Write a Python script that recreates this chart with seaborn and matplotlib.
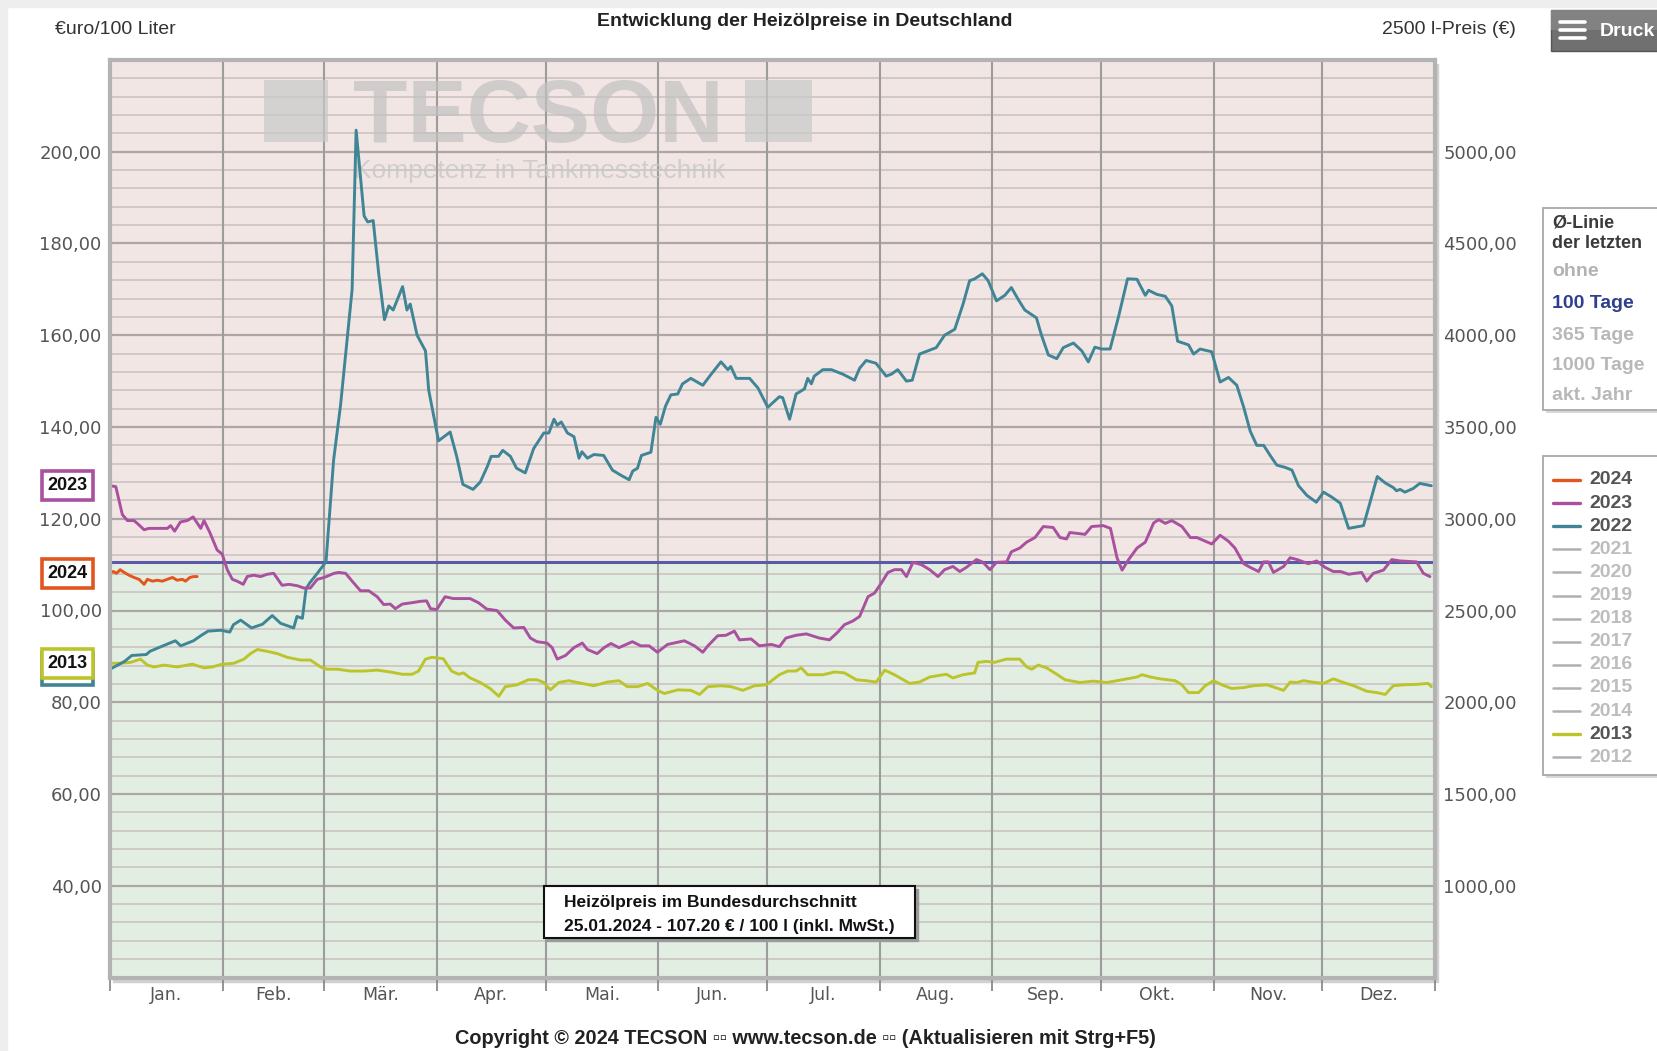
import pandas as pd
import seaborn as sns
import matplotlib.pyplot as plt
from matplotlib.patches import Rectangle
from matplotlib.lines import Line2D
from matplotlib.transforms import blended_transform_factory

# --- Daten (Tag im Jahr, Preis in Euro/100 l) ---
tage_2024 = [0, 0.9, 1.8, 2.8, 3.9, 5.2, 6.6, 8, 9.4, 10.3, 11.7, 13, 14.4, 15.8, 17.2, 18.5, 19.9, 20.8, 22, 23.1, 24]
preis_2024 = [108.1, 108.5, 108.1, 108.9, 108.3, 107.7, 107.2, 106.8, 105.7, 106.8, 106.4, 106.6, 106.4, 106.8,
              107.2, 106.6, 106.8, 106.4, 107.2, 107.4, 107.4]

tage_2023 = [0, 1.6, 3.4, 4.8, 6.6, 7.5, 9.4, 10.7, 13, 15.8, 16.7, 17.8, 19.4, 21.3, 22.9, 24, 25, 25.9, 27.5, 29.5,
             30.9, 32.3, 33.7, 35, 36.7, 37.8, 39.6, 41.5, 43.3, 45.1, 47.4, 49.3, 51.6, 53.4, 55.2, 57.1, 59, 61.7, 63, 64.9,
             66.7, 69, 71.3, 73.6, 75.4, 77.2, 78.6, 80.5, 83.2, 85.5, 87.2, 88.3, 90, 92.3, 94.6, 99.2, 101.5, 103.8, 106.6, 108.9,
             111.2, 114, 115.8, 117.6, 120.4, 121.8, 123.2, 125.5, 127.8, 130.1, 131.5, 134.2, 136.1, 138, 140.2, 143.9, 146.2, 148.5, 150.8, 153.6,
             158.2, 161, 163.3, 164.7, 167.4, 169.7, 172, 173.4, 176.6, 178.9, 182.2, 184.4, 186.2, 189, 191.8, 195.4, 198.2, 200.5, 202.3, 204.6,
             206.5, 208.8, 210.6, 212.5, 214.3, 216.1, 218, 219.4, 221.2, 223.5, 225.8, 228.1, 229.9, 232.2, 234.1, 235.9, 238.7, 240.5, 242.4, 244.2,
             247, 248.3, 250.6, 252.5, 254.8, 257.1, 259.8, 261.7, 263.5, 264.4, 268.6, 270.4, 273.6, 275.6, 277.4, 278.8, 280.6, 282.9, 285.2, 287.5,
             288.9, 290.7, 292.5, 295.3, 297.6, 299.4, 301.7, 303.5, 305.8, 308.1, 309.9, 312.3, 314.1, 316.4, 317.8, 319.1, 320.5, 323.3, 325.1, 327,
             330.1, 332.4, 334.7, 337, 339, 341.2, 344.8, 346.2, 348, 350.8, 353.1, 355.4, 359.9, 361.8, 363.6]
preis_2023 = [127.2, 127.0, 120.9, 119.6, 119.6, 119.0, 117.6, 117.9, 117.9, 117.9, 118.5, 117.3, 119.3, 119.6, 120.4, 119.1, 117.9, 119.6, 117.0, 113.2,
              112.3, 108.9, 106.8, 106.4, 105.7, 107.4, 107.7, 107.4, 107.9, 108.1, 105.5, 105.7, 105.4, 104.9, 104.9, 106.8, 107.2, 108.1, 108.3, 108.1,
              106.4, 104.3, 104.3, 103.0, 101.3, 101.4, 100.4, 101.4, 101.7, 102.0, 102.1, 100.4, 100.2, 103.0, 102.6, 102.6, 101.7, 100.3, 100.0, 97.9,
              96.2, 96.3, 94.0, 93.2, 92.9, 91.9, 89.4, 90.2, 91.9, 92.9, 91.5, 90.6, 91.9, 92.8, 91.9, 93.2, 92.3, 92.3, 90.9, 92.6,
              93.4, 92.3, 90.9, 92.3, 94.5, 94.6, 95.5, 93.6, 93.8, 92.3, 92.6, 92.1, 94.0, 94.6, 94.9, 94.0, 93.6, 95.3, 96.9, 97.7,
              98.7, 103.0, 103.8, 106.0, 108.3, 108.9, 108.9, 107.4, 110.5, 110.0, 108.9, 107.4, 108.9, 109.6, 108.5, 109.4, 111.1, 110.5, 108.9, 110.5,
              110.6, 112.8, 113.6, 114.9, 115.9, 118.3, 118.1, 115.9, 115.6, 117.0, 116.6, 118.3, 118.5, 117.9, 111.5, 108.8, 111.1, 113.6, 114.9, 119.1,
              119.8, 119.0, 119.6, 118.3, 115.9, 115.9, 115.1, 114.5, 116.4, 115.1, 113.6, 110.2, 109.4, 108.5, 110.6, 110.6, 108.3, 109.6, 111.5, 111.1,
              110.2, 110.8, 109.4, 108.5, 108.5, 107.9, 108.3, 106.4, 108.1, 108.8, 111.1, 110.8, 110.6, 108.1, 107.4]

tage_2022 = [0, 4, 6, 10, 11, 14, 18, 19.5, 23, 25, 27, 30.5, 33, 34, 36, 39, 40.5, 42, 44.7, 47,
             50.6, 51.5, 53, 54, 55, 57, 59.5, 61.6, 63.5, 66.7, 67.8, 70, 71, 72.5, 74, 75.6, 76.8, 78, 80.6, 81.8,
             82.7, 84.6, 86.9, 87.8, 90.5, 93.7, 95.5, 97.2, 100, 102, 104, 105, 107, 108.2, 110.3, 112, 114.4, 116.7, 119.5, 120.9,
             122.3, 123.2, 124.3, 126, 127.8, 129.2, 130, 131.5, 133.3, 136, 138.4, 140.7, 143, 144, 145.3, 146.4, 149, 150.4, 151.6, 153,
             154.5, 156.4, 157.7, 160, 163.3, 165.6, 168.3, 170.2, 171, 172.5, 176.2, 178.5, 181.2, 184.4, 185.3, 187.2, 189, 191.3, 192.2, 193.2,
             194, 196.4, 198.7, 201.9, 205.1, 206.5, 208.3, 211, 213.8, 215.2, 217, 219.4, 221, 223, 225.3, 227.6, 229.9, 232.7, 235, 236.8,
             238.2, 240.3, 241.9, 244.2, 246.5, 248.3, 250.2, 252, 255.2, 256.6, 258.5, 260.8, 262.6, 265.4, 267.7, 269.5, 271.3, 273.2, 275.5, 277.9,
             280.3, 282.9, 285.2, 286.1, 288.4, 290.7, 292.5, 294.1, 297.1, 298.5, 300.3, 303.5, 305.8, 308.1, 310.4, 312.3, 314.1, 315.9, 317.8, 319.6,
             321.4, 323.7, 325.6, 327.4, 329.7, 332.3, 334.3, 336.6, 338.9, 341.2, 345.3, 349.1, 351.3, 353.5, 354.4, 355.4, 356.7, 359, 360.8, 364]
preis_2022 = [87.2, 88.9, 90.2, 90.4, 91.1, 92.1, 93.4, 92.3, 93.4, 94.5, 95.5, 95.7, 95.3, 96.9, 97.9, 96.2, 96.6, 97.0, 98.9, 97.2,
              96.2, 98.7, 98.3, 104.7, 106.0, 108.0, 110.6, 132.8, 144.7, 170.0, 204.7, 186.0, 184.7, 185.0, 173.6, 163.4, 166.4, 165.5, 170.6, 165.5,
              166.8, 160.0, 156.6, 148.0, 137.0, 138.9, 133.6, 127.5, 126.4, 128.0, 131.5, 133.6, 133.6, 134.9, 133.6, 131.0, 130.0, 135.3, 138.7, 138.7,
              141.7, 140.4, 141.1, 138.7, 137.9, 133.2, 134.6, 133.2, 134.0, 133.8, 130.6, 129.5, 128.5, 130.4, 131.0, 133.8, 134.5, 142.1, 140.6, 144.5,
              147.0, 147.2, 149.4, 150.6, 149.1, 151.5, 154.2, 152.5, 153.2, 150.6, 150.6, 148.5, 144.3, 146.6, 146.4, 141.7, 147.2, 148.3, 150.6, 149.4,
              151.1, 152.5, 152.5, 151.5, 150.2, 152.8, 154.5, 153.9, 151.1, 151.5, 152.5, 150.0, 150.2, 155.9, 156.6, 157.3, 160.0, 161.3, 166.8, 171.9,
              172.3, 173.4, 171.9, 167.5, 168.7, 170.4, 167.8, 165.5, 163.8, 160.0, 155.7, 154.9, 157.3, 158.3, 156.6, 154.2, 157.4, 157.0, 157.0, 164.3,
              172.3, 172.2, 168.7, 169.8, 168.9, 168.5, 166.4, 158.7, 157.9, 155.9, 157.0, 156.4, 149.8, 150.8, 149.1, 144.3, 139.1, 136.0, 136.0, 133.8,
              131.7, 131.2, 130.6, 127.2, 125.1, 123.6, 125.8, 124.7, 123.4, 117.9, 118.5, 129.2, 127.8, 126.8, 126.1, 126.4, 125.8, 126.6, 127.7, 127.2]

tage_2013 = [0, 2.9, 5.7, 8.4, 10.3, 12.1, 14.9, 18.5, 22.7, 25.9, 28.2, 30.9, 34.1, 36.9, 38.7, 40.6, 43.3, 46.1, 48.8, 52.5,
             55.2, 58, 59.8, 62.6, 66.2, 69.9, 73.6, 77.2, 80.5, 83.2, 85, 86.9, 88.7, 91.8, 94.1, 96, 97.4, 99.2, 102, 104.7,
             107.1, 108.9, 112.1, 115.3, 117.6, 119.5, 121.3, 123.6, 126.4, 128.7, 133.3, 137, 140.2, 142.5, 145.3, 148.1, 150.8, 152.7, 156.4, 160,
             162.4, 164.7, 168.3, 171.1, 174.3, 177.6, 180.8, 184.4, 186.7, 189, 190.4, 192.2, 196.4, 199.6, 202.3, 205.6, 208.3, 211.1, 213.4, 216.1,
             220.3, 223, 225.8, 230.4, 232.2, 235, 238.2, 239.1, 241.4, 243.7, 246.9, 250.6, 252.5, 253.9, 255.7, 258, 260.8, 263.1, 267.2, 270.9,
             274.6, 277.4, 280.1, 282.9, 284.3, 286.6, 289.3, 293.4, 295.3, 297.1, 299.9, 301.7, 304, 306.3, 309, 312.3, 315, 318.7, 321, 323.3,
             325.1, 327, 328.8, 331.1, 334.3, 337, 339.8, 342.6, 346.2, 349, 351.3, 353.5, 356.3, 359.9, 363.1, 364]
preis_2013 = [88.5, 88.5, 88.7, 89.4, 88.1, 87.7, 88.1, 87.7, 88.3, 87.5, 87.7, 88.3, 88.5, 89.4, 90.6, 91.5, 91.1, 90.6, 89.8, 89.2,
              89.2, 87.7, 87.2, 87.2, 86.8, 86.8, 87.0, 86.6, 86.1, 86.1, 86.8, 89.4, 89.8, 89.5, 86.8, 86.1, 86.4, 85.3, 84.3, 83.0,
              81.3, 83.4, 83.8, 84.9, 84.9, 84.3, 82.7, 84.3, 84.7, 84.3, 83.6, 84.4, 84.7, 83.4, 83.4, 84.1, 82.6, 81.9, 82.7, 82.6,
              81.7, 83.4, 83.6, 83.4, 82.6, 83.6, 83.8, 86.0, 86.8, 86.8, 87.5, 86.0, 86.0, 86.6, 86.4, 84.9, 84.7, 84.4, 87.0, 86.0,
              84.1, 84.4, 85.5, 86.1, 85.3, 86.0, 86.4, 88.7, 88.9, 88.7, 89.4, 89.4, 87.7, 87.2, 88.1, 87.5, 86.1, 84.9, 84.3, 84.6,
              84.3, 84.7, 85.1, 85.5, 86.0, 85.5, 85.1, 84.7, 83.8, 82.1, 82.1, 83.6, 84.7, 83.8, 83.0, 83.2, 83.6, 83.8, 83.2, 82.6,
              84.4, 84.3, 84.7, 84.4, 84.1, 85.1, 84.3, 83.6, 82.4, 82.1, 81.7, 83.6, 83.8, 83.9, 84.1, 83.4]

durchschnitt_100_tage = 110.6

monate = ["Jan.", "Feb.", "Mär.", "Apr.", "Mai.", "Jun.", "Jul.", "Aug.", "Sep.", "Okt.", "Nov.", "Dez."]
monatsgrenzen = [0, 31, 59, 90, 120, 151, 181, 212, 243, 273, 304, 334, 365]
y_ticks = [40, 60, 80, 100, 120, 140, 160, 180, 200]
y_ticks_2500 = [1000, 1500, 2000, 2500, 3000, 3500, 4000, 4500, 5000]

legende_jahre = ["2024", "2023", "2022", "2021", "2020", "2019", "2018", "2017",
                 "2016", "2015", "2014", "2013", "2012"]
farben = {"2024": "#e2561e", "2023": "#a9509f", "2022": "#3f8596", "2013": "#bcc42c"}

reihen = [("2013", tage_2013, preis_2013), ("2022", tage_2022, preis_2022),
          ("2023", tage_2023, preis_2023), ("2024", tage_2024, preis_2024)]
df = pd.concat([pd.DataFrame({"Tag": t, "Preis": p, "Jahr": j}) for j, t, p in reihen],
               ignore_index=True)

# --- Stil ---
sns.set_style("white")
plt.rcParams["font.family"] = ["Liberation Sans", "DejaVu Sans"]

W, H = 1657, 1051
fig = plt.figure(figsize=(W / 100, H / 100), dpi=100)


def fx(px):
    return px / W


def fy(py):
    return 1 - py / H


# Seitenrand oben/links
fig.add_artist(Rectangle((0, fy(7)), 1, fy(0) - fy(7), transform=fig.transFigure, color="#eeeeee", zorder=-5))
fig.add_artist(Rectangle((0, 0), fx(7), 1, transform=fig.transFigure, color="#eeeeee", zorder=-5))

L, R, T, B = 110, 1435, 60, 977.5
# Schatten des Diagrammrahmens
fig.add_artist(Rectangle((fx(L + 3), fy(B + 4)), fx(R) - fx(L), fy(T) - fy(B),
                         transform=fig.transFigure, color="#d0d0d0", zorder=-2))
ax = fig.add_axes([fx(L), fy(B), fx(R) - fx(L), fy(T) - fy(B)])
ax.set_facecolor("none")
ax.set_xlim(0, 365)
ax.set_ylim(20, 220)

# Hintergrund ober-/unterhalb der Ø-Linie
ax.axhspan(20, durchschnitt_100_tage, color="#e3eee3", zorder=0.1, lw=0)
ax.axhspan(durchschnitt_100_tage, 220, color="#f1e6e4", zorder=0.1, lw=0)

for v in range(24, 220, 4):
    if v % 20 == 0:
        ax.axhline(v, color="#aca6a5", lw=1.6, zorder=0.5)
    else:
        ax.axhline(v, color="#cdc6c5", lw=1.3, zorder=0.5)
for m in monatsgrenzen[1:-1]:
    ax.axvline(m, color="#9c9c9c", lw=1.5, zorder=0.6)

# Wasserzeichen
for x0, x1 in [(264, 328), (745, 812)]:
    ax.add_patch(Rectangle((fx(x0), fy(142)), fx(x1) - fx(x0), fy(80) - fy(142), transform=fig.transFigure,
                           color="#c9c9c9", alpha=0.7, zorder=0.8, clip_on=False, lw=0))
ax.text(fx(538), fy(142), "TECSON", transform=fig.transFigure, ha="center", va="baseline",
        fontsize=64, fontweight="bold", color="#c2c2c2", alpha=0.7, zorder=0.8)
ax.text(fx(354), fy(178), "Kompetenz in Tankmesstechnik", transform=fig.transFigure, ha="left",
        va="baseline", fontsize=19, color="#c8c8c8", alpha=0.8, zorder=0.8)

ax.axhline(durchschnitt_100_tage, color="#5b5aa6", lw=2.2, zorder=1.5)

sns.lineplot(data=df, x="Tag", y="Preis", hue="Jahr", palette=farben,
             hue_order=["2013", "2022", "2023", "2024"], estimator=None, sort=False,
             linewidth=2.1, legend=False, ax=ax, zorder=2)

ax.set_xlabel("")
ax.set_ylabel("")
for s in ax.spines.values():
    s.set_color("#b3b3b3")
    s.set_linewidth(3)

ax.set_xticks(monatsgrenzen)
ax.set_xticklabels([])
mitten = [(a + b) / 2 for a, b in zip(monatsgrenzen[:-1], monatsgrenzen[1:])]
ax.set_xticks(mitten, minor=True)
ax.set_xticklabels(monate, minor=True, family="DejaVu Sans", fontsize=12.5, color="#555555")
ax.tick_params(axis="x", which="major", length=9, width=1.3, color="#8a8a8a", direction="out", bottom=True)
ax.tick_params(axis="x", which="minor", length=0, pad=6)

ax.set_yticks(y_ticks)
ax.set_yticklabels([f"{v},00" for v in y_ticks], family="DejaVu Sans", fontsize=13, color="#555555")
ax.tick_params(axis="y", length=0, pad=6)

ax2 = ax.twinx()
ax2.set_ylim(20 * 25, 220 * 25)
ax2.set_yticks(y_ticks_2500)
ax2.set_yticklabels([f"{v},00" for v in y_ticks_2500], family="DejaVu Sans", fontsize=13, color="#555555")
ax2.tick_params(axis="y", length=0, pad=6)
for s in ax2.spines.values():
    s.set_visible(False)
ax2.grid(False)

# Jahres-Kästchen links (2022 liegt verdeckt hinter 2013)
halb = blended_transform_factory(ax.transAxes, ax.transData)
ax.add_patch(Rectangle((-0.0515, preis_2022[0] - 3.5), 0.0385, 7, transform=halb, fc="white",
                       ec=farben["2022"], lw=2.6, clip_on=False, zorder=2.9))
for jahr, werte in [("2013", preis_2013), ("2024", preis_2024), ("2023", preis_2023)]:
    ax.annotate(jahr, xy=(-0.032, werte[0]), xycoords=("axes fraction", "data"), ha="center", va="center",
                fontsize=13, fontweight="bold", color="#111111", annotation_clip=False,
                bbox=dict(boxstyle="square,pad=0.32", fc="white", ec=farben[jahr], lw=2.6))

# Kopf- und Fusszeile
fig.text(fx(55), fy(29), "€uro/100 Liter", ha="left", va="center", fontsize=14, color="#333333")
fig.text(fx(805), fy(21), "Entwicklung der Heizölpreise in Deutschland", ha="center", va="center",
         fontsize=14, fontweight="bold", color="#222222")
fig.text(fx(1516), fy(29), "2500 l-Preis (€)", ha="right", va="center", fontsize=14, color="#333333")
fig.text(fx(805), fy(1038), "Copyright © 2024 TECSON \u25ab\u25ab www.tecson.de \u25ab\u25ab (Aktualisieren mit Strg+F5)",
         ha="center", va="center", fontsize=14.3, fontweight="bold", color="#222222")

# Infobox
fig.add_artist(Rectangle((fx(547), fy(941)), fx(915) - fx(544), fy(886) - fy(938),
                         transform=fig.transFigure, color="#9a9a9a", zorder=4))
fig.add_artist(Rectangle((fx(544), fy(938)), fx(915) - fx(544), fy(886) - fy(938),
                         transform=fig.transFigure, fc="white", ec="#111111", lw=1.5, zorder=5))
fig.text(fx(564), fy(903), "Heizölpreis im Bundesdurchschnitt", ha="left", va="center",
         fontsize=12.5, fontweight="bold", color="#111111", zorder=6)
fig.text(fx(564), fy(927), "25.01.2024 - 107.20 € / 100 l (inkl. MwSt.)", ha="left", va="center",
         fontsize=12.5, fontweight="bold", color="#111111", zorder=6)

# Druck-Button
fig.add_artist(Rectangle((fx(1551), fy(51)), fx(120), fy(10) - fy(51), transform=fig.transFigure,
                         fc="#707070", ec="#555555", lw=1, zorder=4))
fig.add_artist(Rectangle((fx(1551), fy(30)), fx(120), fy(10) - fy(30), transform=fig.transFigure,
                         fc="#828282", lw=0, zorder=4))
for yy in [22, 30, 38]:
    fig.add_artist(Line2D([fx(1560), fx(1585)], [fy(yy), fy(yy)], transform=fig.transFigure,
                          color="white", lw=2.6, zorder=5))
fig.text(fx(1600), fy(31), "Druck", ha="left", va="center", fontsize=14, fontweight="bold",
         color="white", zorder=6)

# Ø-Linie Auswahl
fig.add_artist(Rectangle((fx(1546), fy(413)), fx(120), fy(211) - fy(413), transform=fig.transFigure,
                         fc="#d8d8d8", lw=0, zorder=3))
fig.add_artist(Rectangle((fx(1543), fy(410)), fx(120), fy(208) - fy(410), transform=fig.transFigure,
                         fc="white", ec="#a8a8a8", lw=1.3, zorder=4))
optionen = [("Ø-Linie", 223, "#3a3a3a", 13), ("der letzten", 243, "#3a3a3a", 13),
            ("ohne", 272, "#b2b2b2", 14), ("100 Tage", 304, "#2f3f8e", 14),
            ("365 Tage", 335, "#b8b8b8", 14), ("1000 Tage", 365, "#b8b8b8", 14),
            ("akt. Jahr", 396, "#b8b8b8", 14)]
for txt, yy, col, fs in optionen:
    fig.text(fx(1552), fy(yy), txt, ha="left", va="center", fontsize=fs, fontweight="bold",
             color=col, zorder=6)

# Legende
fig.add_artist(Rectangle((fx(1546), fy(778)), fx(120), fy(459) - fy(778), transform=fig.transFigure,
                         fc="#d8d8d8", lw=0, zorder=3))
fig.add_artist(Rectangle((fx(1543), fy(775)), fx(120), fy(456) - fy(775), transform=fig.transFigure,
                         fc="white", ec="#a8a8a8", lw=1.3, zorder=4))
for i, jahr in enumerate(legende_jahre):
    yy = 480 + i * 23.1
    aktiv = jahr in farben
    fig.add_artist(Line2D([fx(1553), fx(1580)], [fy(yy), fy(yy)], transform=fig.transFigure,
                          color=farben.get(jahr, "#b0b0b0"), lw=2.4 if aktiv else 1.8, zorder=5))
    fig.text(fx(1589), fy(yy), jahr, ha="left", va="center", fontsize=14, fontweight="bold",
             color="#555555" if aktiv else "#bdbdbd", zorder=6)

fig.savefig("out.png", dpi=100)
